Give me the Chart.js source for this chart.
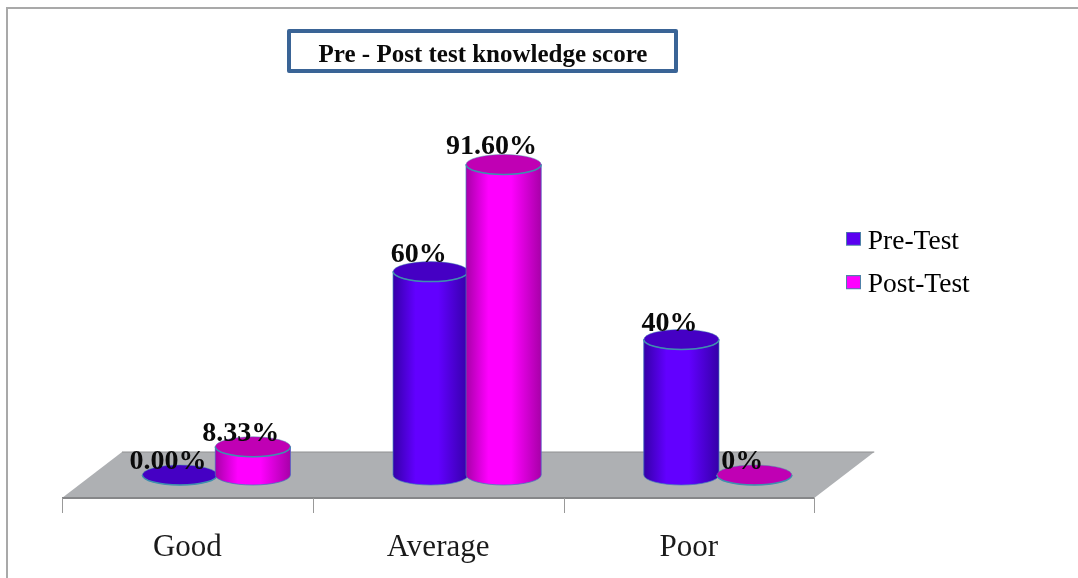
<!DOCTYPE html>
<html>
<head>
<meta charset="utf-8">
<style>html,body{margin:0;padding:0;background:#fff;overflow:hidden}canvas{display:block}</style>
<script src="https://cdn.jsdelivr.net/npm/chart.js@4"></script>
</head>
<body>
<canvas id="c" width="1078" height="578"></canvas>
<script>
const categories = ["Good", "Average", "Poor"];
const preTest = [0, 60, 40];
const postTest = [8.33, 91.6, 0];
const preLabels = ["0.00%", "60%", "40%"];
const postLabels = ["8.33%", "91.60%", "0%"];
const seriesNames = ["Pre-Test", "Post-Test"];
const chartTitle = "Pre - Post test knowledge score";

const SERIF = "'Liberation Serif','Times New Roman',serif";
const palette = [
  {flat:"#5a00f0", edge:"#3500a8", mid:"#6200ff", top:"#4500c4"},
  {flat:"#ff00ff", edge:"#a800a8", mid:"#ff00ff", top:"#c000b4"}
];

function swatch(color){
  const s=document.createElement("canvas"); s.width=15; s.height=20;
  const g=s.getContext("2d");
  g.fillStyle=color; g.fillRect(0,0,15,14);
  g.strokeStyle="#4f81a8"; g.lineWidth=1; g.strokeRect(.5,.5,14,13);
  return s;
}

const scene3d = {
  id:"scene3d",
  afterLayout(chart){
    const t=chart.titleBlock; t.left=288; t.right=678;
    const l=chart.legend; const p=l.options.labels.padding;
    l.left=853-p; l.right=1040; l.top=228-p; l.bottom=334;
  },
  beforeDraw(chart){
    const c=chart.ctx, x=chart.scales.x, y=chart.scales.y;
    c.save();
    // page frame
    c.strokeStyle="#a9a9a9"; c.lineWidth=2;
    c.beginPath(); c.moveTo(7,578); c.lineTo(7,8); c.lineTo(1078,8); c.stroke();
    // title frame
    c.strokeStyle="#3a6496"; c.lineWidth=4; c.lineJoin="round";
    c.strokeRect(289,31,387,40);
    // floor
    const y0=y.getPixelForValue(0), front=y0+23, back=y0-23, sh=29, bk=31;
    c.fillStyle="#aeb0b3";
    c.beginPath();
    c.moveTo(x.left-sh,front); c.lineTo(x.right-sh,front);
    c.lineTo(x.right+bk,back); c.lineTo(x.left+bk,back); c.closePath(); c.fill();
    c.strokeStyle="#8f9092"; c.lineWidth=1;
    c.beginPath(); c.moveTo(x.left+bk,back); c.lineTo(x.right+bk,back); c.stroke();
    c.lineWidth=2; c.strokeStyle="#868789";
    c.beginPath(); c.moveTo(x.left-sh,front); c.lineTo(x.right-sh,front); c.stroke();
    c.lineWidth=1; c.strokeStyle="#999";
    const step=(x.right-x.left)/categories.length;
    for(let i=0;i<=categories.length;i++){
      const px=Math.round(x.left-sh+i*step)+.5;
      c.beginPath(); c.moveTo(px,front); c.lineTo(px,front+15); c.stroke();
    }
    c.restore();
  },
  afterDatasetsDraw(chart){
    const c=chart.ctx, y=chart.scales.y, y0=y.getPixelForValue(0);
    const rim="#3f8fae";
    const drawOne=(bar,pal,value)=>{
      const rx=bar.width/2, ry=10, L=bar.x-rx, R=bar.x+rx;
      c.save();
      if(value>0){
        const g=c.createLinearGradient(L,0,R,0);
        g.addColorStop(0,pal.edge); g.addColorStop(.3,pal.mid);
        g.addColorStop(.6,pal.mid); g.addColorStop(1,pal.edge);
        c.fillStyle=g;
        c.beginPath();
        c.moveTo(L,bar.y); c.lineTo(L,y0);
        c.ellipse(bar.x,y0,rx,ry,0,Math.PI,0,true);
        c.lineTo(R,bar.y); c.closePath(); c.fill();
        c.strokeStyle="rgba(63,120,190,.7)"; c.lineWidth=1; c.stroke();
      }
      c.fillStyle=pal.top; c.strokeStyle="rgba(63,143,174,.45)"; c.lineWidth=1;
      c.beginPath(); c.ellipse(bar.x,bar.y,rx,ry,0,0,Math.PI*2); c.fill(); c.stroke();
      c.strokeStyle=rim; c.lineWidth=1.5;
      c.beginPath(); c.ellipse(bar.x,bar.y,rx,ry,0,0,Math.PI); c.stroke();
      c.restore();
    };
    const metas=[chart.getDatasetMeta(0),chart.getDatasetMeta(1)];
    const sets=[preTest,postTest], texts=[preLabels,postLabels];
    categories.forEach((_,i)=>{
      metas.forEach((m,s)=>drawOne(m.data[i],palette[s],sets[s][i]));
    });
    c.save();
    c.fillStyle="#0a0a0a"; c.font="bold 28px "+SERIF; c.textAlign="center"; c.textBaseline="alphabetic";
    categories.forEach((_,i)=>{
      metas.forEach((m,s)=>{
        const lift=sets[s][i]>50?10:(sets[s][i]>10?8:6);
        c.fillText(texts[s][i],m.data[i].x-12,m.data[i].y-lift);
      });
    });
    c.restore();
  }
};

new Chart(document.getElementById("c"),{
  type:"bar",
  data:{
    labels:categories,
    datasets:[
      {label:seriesNames[0],data:preTest,backgroundColor:palette[0].flat,pointStyle:swatch("#5a00f0")},
      {label:seriesNames[1],data:postTest,backgroundColor:palette[1].flat,pointStyle:swatch("#ff00ff")}
    ]
  },
  options:{
    responsive:false,
    animation:false,
    devicePixelRatio:1,
    categoryPercentage:.582,
    barPercentage:1.03,
    layout:{padding:{left:91,right:234.75,top:0,bottom:0}},
    plugins:{
      tooltip:{enabled:false},
      title:{
        display:true,text:chartTitle,color:"#0a0a0a",
        font:{family:SERIF,size:25,weight:"bold",lineHeight:1.2},
        padding:{top:41,bottom:65}
      },
      legend:{
        display:true,position:"chartArea",align:"start",
        labels:{
          color:"#1a1a1a",font:{family:SERIF,size:27.5},padding:16,
          usePointStyle:true,pointStyleWidth:1,boxHeight:14,
          generateLabels(chart){
            return chart.data.datasets.map((d,i)=>({text:d.label,pointStyle:d.pointStyle,datasetIndex:i,hidden:false,lineWidth:0}));
          }
        }
      }
    },
    scales:{
      x:{
        grid:{display:false},border:{display:false},
        afterFit(scale){scale.height=103;},
        ticks:{color:"#1a1a1a",font:{family:SERIF,size:31},labelOffset:-29,padding:46,maxRotation:0}
      },
      y:{display:false,min:0,max:100,grid:{display:false}}
    }
  },
  plugins:[scene3d]
});
</script>
</body>
</html>
